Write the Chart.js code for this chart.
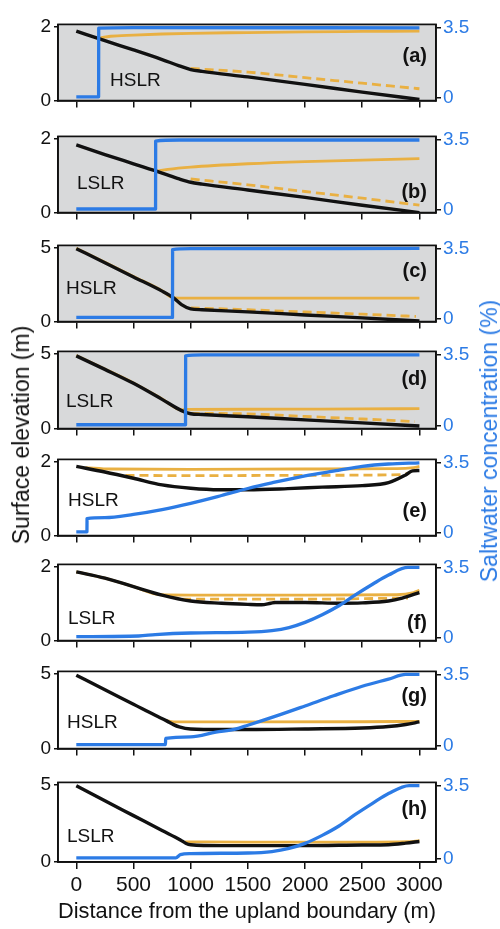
<!DOCTYPE html>
<html>
<head>
<meta charset="utf-8">
<script src="https://cdn.jsdelivr.net/npm/chart.js@4.4.1/dist/chart.umd.min.js"></script>
<style>
  body { margin: 0; width: 500px; height: 929px; position: relative; background: #fff; overflow: hidden;
         font-family: "Liberation Sans", Arial, sans-serif; color: #111; }
  canvas { position: absolute; left: 0; }
  .scen { position: absolute; font-size: 19px; line-height: 20px; white-space: nowrap; }
  .tag { position: absolute; font-size: 20px; line-height: 22px; font-weight: bold; white-space: nowrap; text-align: right; }
  .ytitle { position: absolute; font-size: 23px; line-height: 26px; white-space: nowrap;
            transform: translate(-50%, -50%) rotate(-90deg); }
</style>
</head>
<body>
<script>
// x ticks (m), y ticks
const distTicks = [0, 500, 1000, 1500, 2000, 2500, 3000];
const saltTicks = [0, 3.5];
const elevTops = [2, 2, 5, 5, 2, 2, 5, 5];
const scenarios = ['HSLR', 'LSLR', 'HSLR', 'LSLR', 'HSLR', 'LSLR', 'HSLR', 'LSLR'];
const panelTags = ['(a)', '(b)', '(c)', '(d)', '(e)', '(f)', '(g)', '(h)'];

// [distance m, elevation m] / [distance m, salt %]
const bedA = [[0,1.88],[250,1.62],[500,1.37],[750,1.11],[900,0.94],[1000,0.84],[1100,0.79],[1500,0.64],[2000,0.44],[2500,0.23],[3000,0.03]];
const solidA = [[195,1.69],[300,1.74],[500,1.77],[750,1.8],[1000,1.82],[1500,1.84],[2000,1.86],[2500,1.87],[3000,1.88]];
const dashA = [[1000,0.87],[1500,0.77],[2000,0.62],[2500,0.47],[3000,0.32]];
const saltA = [[0,0.04],[195,0.04],[196,3.46],[500,3.49],[3000,3.48]];

const bedB = [[0,1.83],[250,1.57],[500,1.32],[750,1.07],[900,0.91],[1000,0.82],[1100,0.77],[1500,0.61],[2000,0.41],[2500,0.2],[3000,0.0]];
const solidB = [[693,1.12],[800,1.17],[1000,1.23],[1500,1.32],[2000,1.38],[2500,1.42],[3000,1.46]];
const dashB = [[1000,0.91],[1500,0.75],[2000,0.57],[2500,0.39],[3000,0.2]];
const saltB = [[0,0.03],[693,0.03],[694,3.42],[900,3.47],[3000,3.47]];

const bedC = [[0,4.93],[250,3.98],[500,3.02],[750,2.06],[850,1.6],[920,1.15],[1000,0.86],[1100,0.8],[1500,0.66],[2000,0.45],[2500,0.25],[3000,0.04]];
const solidC = [[0,4.96],[250,4.01],[500,3.05],[750,2.09],[841,1.62],[900,1.59],[2000,1.59],[3000,1.59]];
const dashC = [[1000,0.93],[1500,0.8],[2000,0.65],[2500,0.5],[2970,0.35]];
const saltC = [[0,0.06],[841,0.06],[842,3.44],[1000,3.49],[3000,3.5]];

const bedD = [[0,4.85],[250,3.95],[500,3.02],[750,1.95],[920,1.2],[1000,0.99],[1100,0.94],[1500,0.79],[2000,0.58],[2500,0.38],[3000,0.17]];
const solidD = [[0,4.88],[250,3.98],[500,3.05],[750,1.98],[920,1.24],[955,1.28],[1500,1.29],[2000,1.3],[2500,1.31],[3000,1.33]];
const dashD = [[1000,1.02],[1500,0.98],[2000,0.81],[2500,0.64],[2960,0.47]];
const saltD = [[0,0.04],[955,0.04],[956,3.43],[1100,3.48],[3000,3.48]];

const bedE = [[0,1.87],[250,1.72],[500,1.55],[750,1.37],[1000,1.28],[1250,1.24],[1500,1.24],[1850,1.27],[2150,1.31],[2500,1.35],[2730,1.43],[2880,1.64],[2940,1.75],[3000,1.76]];
const solidE = [[80,1.84],[300,1.8],[1000,1.79],[2000,1.8],[2800,1.81],[2950,1.84],[3000,1.87]];
const dashE = [[430,1.63],[1000,1.62],[2000,1.63],[2850,1.65],[2910,1.69]];
const saltE = [[0,0.04],[93,0.04],[94,0.7],[250,0.75],[500,0.91],[750,1.15],[1000,1.46],[1270,1.85],[1500,2.2],[1710,2.48],[2000,2.83],[2290,3.1],[2500,3.3],[2730,3.42],[3000,3.48]];

const bedF = [[0,1.86],[250,1.69],[500,1.46],[750,1.23],[1000,1.07],[1270,1.01],[1500,0.98],[1620,0.97],[1700,1.01],[1740,1.03],[2000,1.03],[2300,1.01],[2500,1.02],[2730,1.07],[2850,1.15],[3000,1.3]];
const solidF = [[0,1.86],[250,1.69],[500,1.46],[740,1.24],[1000,1.23],[2000,1.23],[2800,1.24],[2950,1.3],[3000,1.36]];
const dashF = [[925,1.12],[2000,1.12],[2900,1.15]];
const saltF = [[0,0.05],[545,0.08],[690,0.15],[1000,0.23],[1500,0.27],[1710,0.35],[1860,0.5],[2000,0.76],[2150,1.14],[2300,1.6],[2440,2.13],[2590,2.66],[2730,3.12],[2900,3.5],[3000,3.5]];

const bedG = [[0,4.9],[250,3.92],[500,2.96],[690,2.22],[790,1.85],[850,1.6],[900,1.45],[1000,1.31],[1270,1.27],[1500,1.27],[2000,1.31],[2500,1.37],[2730,1.47],[2880,1.61],[3000,1.78]];
const solidG = [[790,1.86],[850,1.78],[1500,1.78],[2500,1.79],[3000,1.82]];
const saltG = [[0,0.05],[780,0.05],[781,0.35],[1000,0.43],[1220,0.66],[1390,0.81],[1500,1.0],[1750,1.46],[2000,1.95],[2250,2.45],[2500,2.92],[2730,3.27],[2880,3.5],[3000,3.5]];

const bedH = [[0,4.94],[250,3.96],[500,3.0],[750,2.04],[910,1.43],[960,1.2],[1000,1.12],[1270,1.06],[1500,1.06],[2000,1.06],[2500,1.1],[2730,1.12],[2880,1.22],[3000,1.33]];
const solidH = [[950,1.3],[1500,1.29],[2500,1.29],[2900,1.32],[3000,1.38]];
const saltH = [[0,0.05],[870,0.05],[910,0.2],[1000,0.25],[1500,0.28],[1710,0.35],[1860,0.5],[2000,0.74],[2150,1.12],[2300,1.58],[2440,2.12],[2590,2.65],[2730,3.12],[2910,3.5],[3000,3.5]];

const panels = [
  {bed: bedA, solid: solidA, dash: dashA, salt: saltA, shaded: true},
  {bed: bedB, solid: solidB, dash: dashB, salt: saltB, shaded: true},
  {bed: bedC, solid: solidC, dash: dashC, salt: saltC, shaded: true},
  {bed: bedD, solid: solidD, dash: dashD, salt: saltD, shaded: true},
  {bed: bedE, solid: solidE, dash: dashE, salt: saltE, shaded: false},
  {bed: bedF, solid: solidF, dash: dashF, salt: saltF, shaded: false},
  {bed: bedG, solid: solidG, dash: null, salt: saltG, shaded: false},
  {bed: bedH, solid: solidH, dash: null, salt: saltH, shaded: false}
];

// page layout: plot top/bottom, scenario label (left, centre y), tag centre y
const plotBoxes = [[20,103],[132,215],[241,324],[347,431],[455,538],[560,643],[667,751],[778,862]];
const scenPos = [[110,79.5],[77,182.5],[66,287.5],[66,401],[68,499.5],[68,617.5],[67,721.5],[67,835.5]];
const tagY = [56,192,271,379,511,623,696,809];

const BLUE = '#2c7be5';
const ORANGE = '#e9b042';
const INK = '#111111';
const GREY = '#d8d9da';

function makePanel(i) {
  const p = panels[i];
  const [pTop, pBottom] = plotBoxes[i];
  const last = i === panels.length - 1;
  const top = pTop - 10;
  const plotH = pBottom - pTop;
  const H = last ? 929 - top : 10 + plotH + 12;

  const cv = document.createElement('canvas');
  cv.width = 500; cv.height = H;
  cv.style.top = top + 'px';
  document.body.appendChild(cv);

  const frame = {
    id: 'frame' + i,
    beforeDraw(chart) {
      if (!p.shaded) return;
      const a = chart.chartArea, ctx = chart.ctx;
      ctx.save(); ctx.fillStyle = GREY;
      ctx.fillRect(a.left, a.top, a.right - a.left, a.bottom - a.top);
      ctx.restore();
    },
    afterDraw(chart) {
      const a = chart.chartArea, ctx = chart.ctx;
      ctx.save(); ctx.strokeStyle = INK; ctx.lineWidth = 1.7;
      ctx.strokeRect(a.left, a.top, a.right - a.left, a.bottom - a.top);
      ctx.restore();
    }
  };

  const datasets = [
    {data: p.salt, yAxisID: 'y2', borderColor: BLUE, borderWidth: 3.3},
    {data: p.bed, yAxisID: 'y', borderColor: INK, borderWidth: 3.4},
    {data: p.solid, yAxisID: 'y', borderColor: ORANGE, borderWidth: 2.8}
  ];
  if (p.dash) datasets.push({data: p.dash, yAxisID: 'y', borderColor: ORANGE, borderWidth: 2.8, borderDash: [9, 5]});

  const yTop = elevTops[i];
  new Chart(cv, {
    type: 'line',
    data: {datasets},
    options: {
      responsive: false,
      animation: false,
      events: [],
      layout: {padding: {top: 10, left: 0, right: 0, bottom: 0}},
      elements: {point: {radius: 0}, line: {cubicInterpolationMode: 'monotone', borderJoinStyle: 'round'}},
      plugins: {legend: {display: false}, tooltip: {enabled: false}},
      scales: {
        x: {
          type: 'linear', min: -160, max: 3145,
          afterBuildTicks: s => { s.ticks = distTicks.map(v => ({value: v})); },
          afterFit: s => { s.height = H - 10 - plotH; },
          grid: {drawOnChartArea: false, tickLength: 7, color: INK, lineWidth: 1.5},
          border: {color: INK, width: 1.7},
          ticks: {display: last, font: {size: 21}, color: INK, padding: 4, maxRotation: 0, autoSkip: false,
                  callback: v => String(v)},
          title: {display: last, text: 'Distance from the upland boundary (m)', font: {size: 22}, color: INK,
                  padding: {top: 0, bottom: 4}}
        },
        y: {
          position: 'left', min: 0, max: yTop * 1.03,
          afterBuildTicks: s => { s.ticks = [0, yTop].map(v => ({value: v})); },
          afterFit: s => { s.width = 58; },
          grid: {drawOnChartArea: false, tickLength: 4, color: INK, lineWidth: 1.5},
          border: {color: INK, width: 1.7},
          ticks: {font: {size: 19}, color: INK, padding: 3, callback: v => String(v)}
        },
        y2: {
          position: 'right', min: -0.15, max: 3.65,
          afterBuildTicks: s => { s.ticks = saltTicks.map(v => ({value: v})); },
          afterFit: s => { s.width = 64; },
          grid: {drawOnChartArea: false, tickLength: 5, color: INK, lineWidth: 1.5},
          border: {color: INK, width: 1.7},
          ticks: {font: {size: 19}, color: BLUE, padding: 2, callback: v => String(v)}
        }
      }
    },
    plugins: [frame]
  });

  const s = document.createElement('div');
  s.className = 'scen';
  s.textContent = scenarios[i];
  s.style.left = scenPos[i][0] + 'px';
  s.style.top = (scenPos[i][1] - 10) + 'px';
  document.body.appendChild(s);

  const t = document.createElement('div');
  t.className = 'tag';
  t.textContent = panelTags[i];
  t.style.right = (500 - 427) + 'px';
  t.style.top = (tagY[i] - 12.5) + 'px';
  document.body.appendChild(t);
}

window.addEventListener('DOMContentLoaded', () => {
  panels.forEach((_, i) => makePanel(i));

  const lt = document.createElement('div');
  lt.className = 'ytitle';
  lt.textContent = 'Surface elevation (m)';
  lt.style.left = '21px'; lt.style.top = '435px';
  document.body.appendChild(lt);

  const rt = document.createElement('div');
  rt.className = 'ytitle';
  rt.textContent = 'Saltwater concentration (%)';
  rt.style.left = '489px'; rt.style.top = '441px';
  rt.style.color = BLUE;
  document.body.appendChild(rt);
});
</script>
</body>
</html>
